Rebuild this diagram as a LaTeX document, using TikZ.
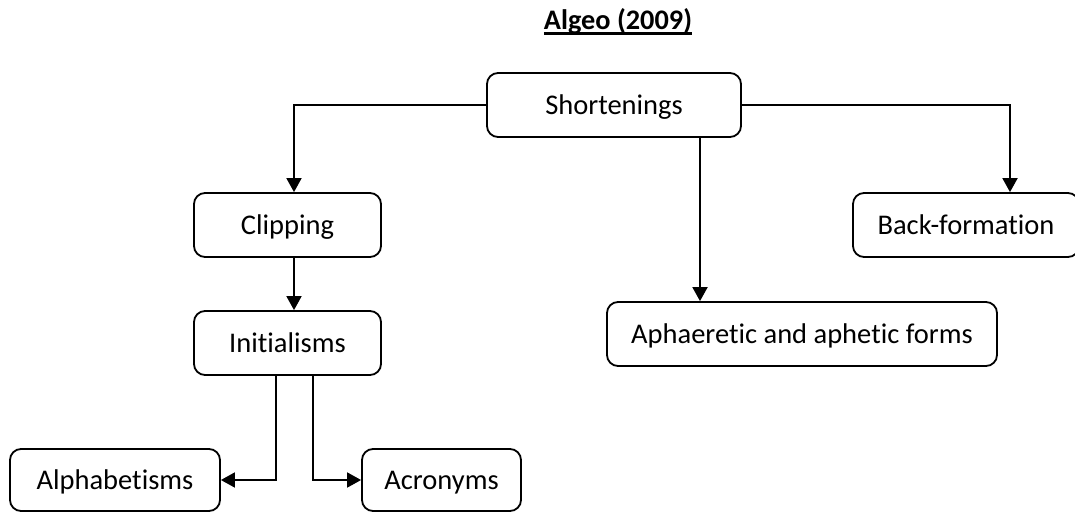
\documentclass[tikz,border=0pt]{standalone}
\usepackage{fontspec}
\setmainfont{Carlito}[RawFeature={-liga}]
\usetikzlibrary{arrows.meta}
\tikzset{
  boxnode/.style={draw, line width=1.8pt, rounded corners=11pt, align=center,
    font=\fontsize{28.5}{34}\selectfont, text height=24pt, text depth=6pt,
    minimum height=64pt, inner sep=0pt},
  link/.style={line width=1.8pt, -{Triangle[length=14pt,width=15pt]}}
}
\begin{document}
\begin{tikzpicture}[x=1pt,y=-1pt]
  \useasboundingbox (0,0) rectangle (1075,511);
  \clip (0,0) rectangle (1075,511);

  % heading
  \node[font=\fontsize{28.3}{34}\selectfont\bfseries, inner sep=0pt, anchor=base] (title) at (618,30) {Algeo (2009)};
  \draw[line width=2.2pt] ([yshift=-3.5pt]title.base west) -- ([yshift=-3.5pt]title.base east);

  % boxes
  \node[boxnode, minimum width=254pt] (sh)    at (614,105)   {Shortenings};
  \node[boxnode, minimum width=187pt] (clip)  at (287.5,225) {Clipping};
  \node[boxnode, minimum width=187pt] (init)  at (287.5,343) {Initialisms};
  \node[boxnode, minimum width=210pt, minimum height=62pt] (alpha) at (115,480)   {Alphabetisms};
  \node[boxnode, minimum width=159pt, minimum height=62pt] (acro)  at (441.5,480) {Acronyms};
  \node[boxnode, minimum width=226pt] (back)  at (966,225)   {Back-formation};
  \node[boxnode, minimum width=390pt] (aph)   at (802,334)   {Aphaeretic and aphetic forms};

  % connectors
  \coordinate (split1) at ([xshift=-11.5pt]init.south);
  \coordinate (split2) at ([xshift=25.5pt]init.south);
  \draw[link] (sh.west) -| ([xshift=6.5pt]clip.north);
  \draw[link] (sh.east) -| ([xshift=44pt]back.north);
  \draw[link] ([xshift=86pt]sh.south) -- ([xshift=-102pt]aph.north);
  \draw[link] ([xshift=6.5pt]clip.south) -- ([xshift=6.5pt]init.north);
  \draw[link] (split1) |- (alpha.east);
  \draw[link] (split2) |- (acro.west);
\end{tikzpicture}
\end{document}
